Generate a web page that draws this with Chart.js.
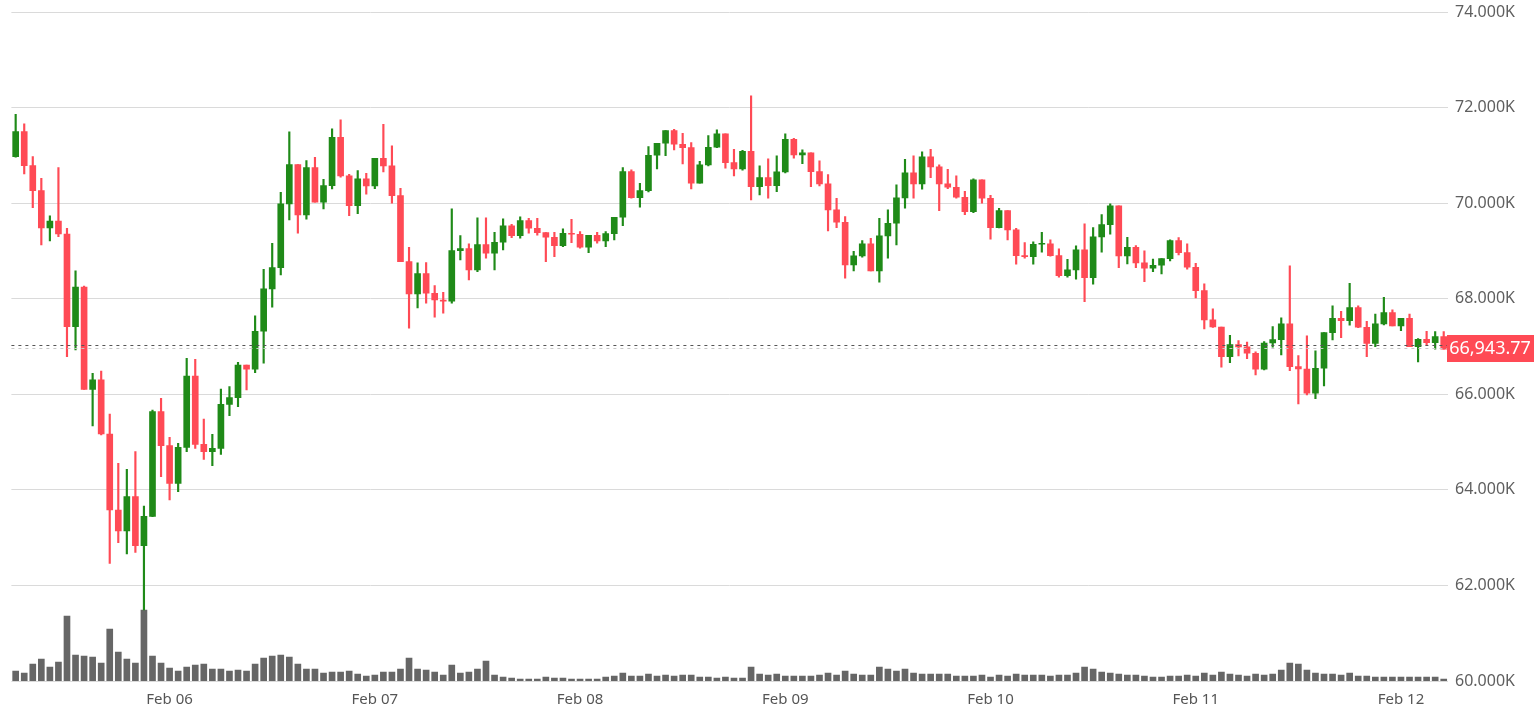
<!DOCTYPE html>
<html>
<head>
<meta charset="utf-8">
<script src="https://cdn.jsdelivr.net/npm/chart.js@4.4.1/dist/chart.umd.min.js"></script>
<style>
  html, body { margin: 0; padding: 0; background: #fff; }
  #wrap { width: 1536px; height: 704px; position: relative; }
</style>
</head>
<body>
<div id="wrap"><canvas id="btcChart"></canvas></div>
<script>
// hourly candles, first one is Feb 05 06:00
var dayTicks = ['Feb 06', 'Feb 07', 'Feb 08', 'Feb 09', 'Feb 10', 'Feb 11', 'Feb 12'];
var firstDayIndex = 18;

var opens = [70974,71497,70786,70262,69481,69627,69355,67416,68246,66104,66300,65169,63578,63139,63857,62832,63446,65637,64925,64137,
  64890,66383,64953,64800,64869,65790,65930,66613,66523,67319,68205,68651,69984,70807,69754,70744,70019,70368,71379,70570,
  69949,70507,70361,70940,70779,70158,68777,68100,68526,68114,67974,67947,69007,69049,68603,69133,68951,69182,69523,69321,
  69635,69475,69384,69286,69112,69370,69349,69077,69328,69210,69363,69705,70661,70117,70263,71003,71254,71519,71233,71163,
  70416,70800,71170,71449,70849,70716,71086,70347,70535,70368,70654,71337,71010,71051,70661,70402,69858,69600,68707,68896,
  69147,68582,69314,69579,70109,70633,70402,70968,70758,70402,70333,70123,69823,70486,70102,69488,69844,69439,68902,68881,
  69140,69146,68902,68484,68602,69021,68442,69293,69551,69942,68895,69077,68749,68637,68700,68840,69216,68965,68658,68170,
  67556,67409,66788,67040,66991,66858,66523,67074,67144,67472,66579,66530,66021,66544,67291,67591,67542,67814,67402,67067,
  67472,67709,67430,67591,66998,67151,67081,67207];
var highs = [71860,71658,70974,70520,69732,70744,69474,68581,68267,66439,66488,65588,64555,64430,64799,63662,65671,65916,65099,64974,
  66753,66732,65483,65162,66111,66160,66669,66613,67640,68616,69161,70228,71491,70807,70891,70961,70500,71554,71742,70605,
  70682,70626,70940,71651,71198,70312,69077,68749,68756,68275,68135,69879,69321,69147,69691,69691,69391,69670,69558,69712,
  69684,69684,69384,69391,69461,69663,69405,69328,69391,69405,69705,70744,70696,70416,71184,71254,71519,71547,71463,71268,
  70877,71414,71533,71449,71128,71107,72244,70779,70926,70989,71449,71358,71114,71051,70884,70598,70102,69719,68993,69217,
  69265,69684,69858,70382,70919,70989,71072,71128,70800,70709,70570,70249,70507,70486,70165,69893,69844,69474,69174,69188,
  69391,69230,69042,68826,69105,69565,69488,69760,69984,69942,69286,69112,69000,68832,68840,69230,69279,69147,68742,68309,
  67786,67409,67235,67123,67095,66886,67102,67416,67598,68686,66809,67221,66907,67291,67849,67737,68323,67849,67528,67681,
  68030,67765,67591,67681,67165,67319,67311,67311];
var lows = [70960,70611,69906,69125,69209,69300,66788,66927,66104,65337,65148,62462,62895,62657,62692,61486,63440,64276,63788,63962,
  64800,64869,64639,64506,64743,65553,65741,66090,66454,66649,67821,68498,69649,69370,69663,70019,69879,70298,70542,69740,
  69782,70186,70305,70654,69998,68777,67382,67807,67905,67612,67695,67905,68812,68393,68568,68847,68603,69021,69279,69265,
  69370,69328,68777,68882,69091,69175,69056,68965,69161,69091,69230,69530,70102,69914,70235,70716,70996,71114,70821,70298,
  70416,70780,71160,70730,70570,70689,70068,70172,70102,70242,70630,70940,70828,70347,70361,69419,69489,68428,68582,68868,
  68582,68344,68847,69126,69893,70102,70291,70535,69844,70305,70102,69761,69800,69998,69244,69480,69230,68721,68846,68721,
  68972,68890,68449,68449,68407,67939,68302,68972,69349,68651,68728,68651,68358,68567,68519,68791,68916,68616,68016,67367,
  67400,66565,66663,66802,66747,66405,66510,66984,66823,66495,65798,65986,65909,66174,67137,67186,67444,67395,66788,66998,
  67450,67430,67332,66998,66677,67032,66942,66942];
var closes = [71497,70786,70262,69481,69627,69355,67416,68246,66104,66300,65169,63578,63139,63857,62832,63446,65637,64925,64137,64890,
  66383,64953,64800,64869,65790,65930,66613,66523,67319,68205,68651,69984,70807,69754,70744,70019,70368,71379,70570,69949,
  70507,70361,70940,70779,70158,68777,68100,68526,68114,67974,67947,69007,69049,68603,69133,68951,69182,69523,69321,69635,
  69475,69384,69286,69112,69370,69349,69077,69328,69210,69363,69705,70661,70117,70263,71003,71254,71519,71233,71163,70416,
  70800,71170,71449,70849,70716,71086,70347,70535,70368,70654,71337,71010,71051,70661,70402,69858,69600,68707,68896,69147,
  68582,69314,69579,70109,70633,70402,70968,70758,70402,70333,70123,69823,70486,70102,69488,69844,69439,68902,68881,69140,
  69146,68902,68484,68602,69021,68442,69293,69551,69942,68895,69077,68749,68637,68700,68840,69216,68965,68658,68170,67556,
  67409,66788,67040,66991,66858,66523,67074,67144,67472,66579,66530,66021,66544,67291,67591,67542,67814,67402,67067,67472,
  67709,67430,67591,66998,67151,67081,67207,66943.77];
var volumes = [10,8,17,22,14,19,65,26,25,24,18,52,29,22,18,71,25,18,13,10,14,16,17,12,12,10,11,10,17,23,
  25,26,24,17,12,12,8,9,9,10,7,5,6,9,9,12,23,12,11,9,6,16,8,9,12,20,6,
  4,3,2,2,2,4,3,3,2,2,2,2,4,5,8,5,5,7,5,6,5,6,6,4,4,3,4,3,3,
  14,7,6,7,5,5,5,5,6,8,6,10,7,6,6,14,12,10,12,8,7,7,7,7,5,5,5,6,4,6,
  5,7,6,6,6,5,6,6,8,14,12,9,8,7,6,6,5,4,4,5,5,6,5,8,6,9,7,6,5,7,
  6,7,11,18,17,11,8,7,7,6,8,5,5,4,4,4,4,4,4,4,4,2];

var upColor = '#1f8a18';
var downColor = '#ff4a55';

var labels = [];
for (var i = 0; i < closes.length; i++) labels.push(i);
var candleColors = closes.map(function(c, i){ return c >= opens[i] ? upColor : downColor; });
var wickData = lows.map(function(l, i){ return [l, highs[i]]; });
var bodyData = opens.map(function(o, i){ return [o, closes[i]]; });

var lastPrice = closes[closes.length - 1];

var priceLine = {
  id: 'priceLine',
  afterDatasetsDraw: function(chart) {
    var ctx = chart.ctx, area = chart.chartArea;
    var y = Math.round(chart.scales.y.getPixelForValue(lastPrice));
    ctx.save();
    ctx.lineWidth = 1;
    ctx.setLineDash([3, 4]);
    ctx.strokeStyle = '#555';
    ctx.beginPath(); ctx.moveTo(area.left, y - 3.5); ctx.lineTo(area.right, y - 3.5); ctx.stroke();
    ctx.strokeStyle = '#c8c8c8';
    ctx.beginPath(); ctx.moveTo(area.left, y - 0.5); ctx.lineTo(area.right, y - 0.5); ctx.stroke();
    ctx.setLineDash([]);
    ctx.fillStyle = downColor;
    ctx.fillRect(area.right - 1, y - 14, 87, 27);
    ctx.fillStyle = '#fff';
    ctx.font = '18px "Noto Sans"';
    ctx.textAlign = 'center';
    ctx.textBaseline = 'middle';
    ctx.fillText(lastPrice.toLocaleString('en-US', {minimumFractionDigits: 2}), area.right + 42, y);
    ctx.restore();
  }
};

new Chart('btcChart', {
  type: 'bar',
  data: {
    labels: labels,
    datasets: [{
      label: 'Volume',
      data: volumes,
      yAxisID: 'vol',
      backgroundColor: '#666666',
      barThickness: 6,
      grouped: false,
      order: 3
    }, {
      label: 'Wick',
      data: wickData,
      backgroundColor: candleColors,
      barThickness: 1.5,
      grouped: false,
      order: 2
    }, {
      label: 'Body',
      data: bodyData,
      backgroundColor: candleColors,
      barThickness: 6,
      minBarLength: 1,
      grouped: false,
      order: 1
    }]
  },
  options: {
    responsive: true,
    maintainAspectRatio: false,
    animation: false,
    layout: { padding: { left: 11.4, top: 12, right: 0, bottom: 0 } },
    plugins: { legend: { display: false }, tooltip: { enabled: false } },
    scales: {
      x: {
        grid: { display: false },
        border: { display: false },
        ticks: {
          autoSkip: false,
          maxRotation: 0,
          padding: 2,
          color: '#555',
          font: { family: 'Noto Sans', size: 15 },
          callback: function(v, i) {
            var d = i - firstDayIndex;
            return (d >= 0 && d % 24 === 0) ? dayTicks[d / 24] : '';
          }
        },
        afterFit: function(s) { s.height = 23; s.paddingLeft = 0; s.paddingRight = 0; }
      },
      y: {
        position: 'right',
        min: 60000,
        max: 74000,
        grid: { color: '#dadada', drawTicks: false },
        border: { display: false },
        ticks: {
          stepSize: 2000,
          padding: 7,
          color: '#5f5f5f',
          font: { family: 'Noto Sans', size: 16 },
          callback: function(v) { return (v / 1000).toFixed(3) + 'K'; }
        },
        afterFit: function(s) { s.width = 88; s.paddingTop = 0; s.paddingBottom = 0; }
      },
      vol: {
        display: false,
        min: 0,
        max: 669
      }
    }
  },
  plugins: [priceLine]
});
</script>
</body>
</html>
